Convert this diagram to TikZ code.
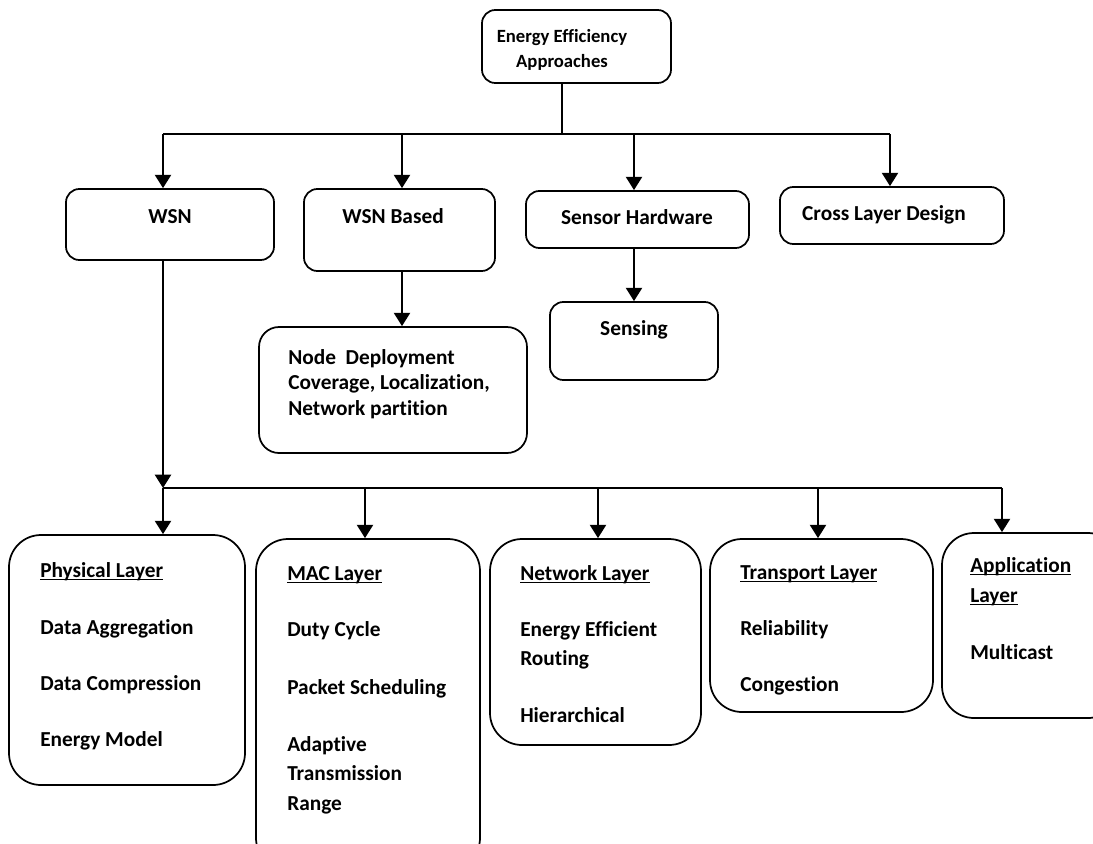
\documentclass[tikz,border=0pt]{standalone}
\usepackage{fontspec}
\setmainfont{Carlito}[Ligatures=NoCommon]
\usetikzlibrary{arrows.meta,fit}

\newcommand{\undl}[1]{\setbox0\hbox{#1}\rlap{\rule[-2.3pt]{\wd0}{1.1pt}}\box0}

\tikzset{
  box/.style={draw, line width=1.3pt, inner sep=0pt},
  lbl/.style={inner sep=0.75pt, font=\fontsize{16}{19}\selectfont\bfseries},
  arr/.style={line width=1.8pt, -{Triangle[width=12pt,length=10pt]}},
  bus/.style={line width=1.6pt}
}

\begin{document}
\begin{tikzpicture}[x=0.75pt,y=0.75pt,yscale=-1,xscale=1]
\useasboundingbox (0,0) rectangle (1093,843);
\clip (0,0) rectangle (1093,843);

% boxes
\node [box, rounded corners=10pt, fit={(482,10) (671,83)}] (eea) {};
\node [box, rounded corners=10pt, fit={(66,189) (274,260)}] (wsn) {};
\node [box, rounded corners=10pt, fit={(304,189) (495,271)}] (wsnb) {};
\node [box, rounded corners=10pt, fit={(526,191) (749,248)}] (sh) {};
\node [box, rounded corners=10pt, fit={(780,187) (1004,244)}] (cld) {};
\node [box, rounded corners=15pt, fit={(259,327) (527,453)}] (nd) {};
\node [box, rounded corners=10pt, fit={(550,302) (718,380)}] (sen) {};

\node [box, rounded corners=24pt, fit={(9,535) (245,785)}] (phy) {};
\node [box, rounded corners=24pt, fit={(256,539) (480,870)}] (mac) {};
\node [box, rounded corners=24pt, fit={(490,539) (701,745)}] (net) {};
\node [box, rounded corners=24pt, fit={(710,539) (933,712)}] (tra) {};
\node [box, rounded corners=24pt, fit={(942,533) (1120,718)}] (app) {};

% labels
\draw (562,50) node [lbl, font=\fontsize{14}{18.75}\selectfont\bfseries, align=center] (eeatxt) {Energy Efficiency\\Approaches};
\draw (170,223) node [anchor=base][lbl] (wsntxt) {WSN};
\draw (393,223) node [anchor=base][lbl] (wsnbtxt) {WSN Based};
\draw (637,224) node [anchor=base][lbl] (shtxt) {Sensor Hardware};
\draw (884,220) node [anchor=base][lbl] (cldtxt) {Cross Layer Design};
\draw (634,335) node [anchor=base][lbl] (sentxt) {Sensing};

\draw (287,364) node [anchor=base west][lbl] (nd1) {Node\ \ Deployment};
\draw (287,389) node [anchor=base west][lbl] (nd2) {Coverage, Localization,};
\draw (287,415) node [anchor=base west][lbl] (nd3) {Network partition};

\draw (39,577) node [anchor=base west][lbl] (phy1) {\undl{Physical Layer}};
\draw (39,634) node [anchor=base west][lbl] (phy2) {Data Aggregation};
\draw (39,690) node [anchor=base west][lbl] (phy3) {Data Compression};
\draw (39,746) node [anchor=base west][lbl] (phy4) {Energy Model};

\draw (286,580) node [anchor=base west][lbl] (mac1) {\undl{MAC Layer}};
\draw (286,636) node [anchor=base west][lbl] (mac2) {Duty Cycle};
\draw (286,694) node [anchor=base west][lbl] (mac3) {Packet Scheduling};
\draw (286,751) node [anchor=base west][lbl] (mac4) {Adaptive};
\draw (286,780) node [anchor=base west][lbl] (mac5) {Transmission};
\draw (286,810) node [anchor=base west][lbl] (mac6) {Range};

\draw (519,580) node [anchor=base west][lbl] (net1) {\undl{Network Layer}};
\draw (519,636) node [anchor=base west][lbl] (net2) {Energy Efficient};
\draw (519,665) node [anchor=base west][lbl] (net3) {Routing};
\draw (519,722) node [anchor=base west][lbl] (net4) {Hierarchical};

\draw (739,579) node [anchor=base west][lbl] (tra1) {\undl{Transport Layer}};
\draw (739,635) node [anchor=base west][lbl] (tra2) {Reliability};
\draw (739,691) node [anchor=base west][lbl] (tra3) {Congestion};

\draw (969,572) node [anchor=base west][lbl] (app1) {\undl{Application}};
\draw (969,602) node [anchor=base west][lbl] (app2) {\undl{Layer}};
\draw (969,659) node [anchor=base west][lbl] (app3) {Multicast};

% connectors
\coordinate (hub) at (562,134);
\coordinate (t1) at (163,134);
\coordinate (t2) at (402,134);
\coordinate (t3) at (634,134);
\coordinate (t4) at (890,134);
\draw [bus] (hub |- eea.south) -- (hub);
\draw [bus] (t1) -- (t4);
\draw [arr] (t1) -- (t1 |- wsn.north);
\draw [arr] (t2) -- (t2 |- wsnb.north);
\draw [arr] (t3) -- (t3 |- sh.north);
\draw [arr] (t4) -- (t4 |- cld.north);

\draw [arr] (t2 |- wsnb.south) -- (t2 |- nd.north);
\draw [arr] (t3 |- sh.south) -- (t3 |- sen.north);

\coordinate (b1) at (163,488);
\coordinate (b2) at (365,488);
\coordinate (b3) at (598,488);
\coordinate (b4) at (818,488);
\coordinate (b5) at (1002,488);
\draw [arr] (b1 |- wsn.south) -- (b1);
\draw [bus] (b1) -- (b5);
\draw [arr] (b1) -- (b1 |- phy.north);
\draw [arr] (b2) -- (b2 |- mac.north);
\draw [arr] (b3) -- (b3 |- net.north);
\draw [arr] (b4) -- (b4 |- tra.north);
\draw [arr] (b5) -- (b5 |- app.north);

\end{tikzpicture}
\end{document}
